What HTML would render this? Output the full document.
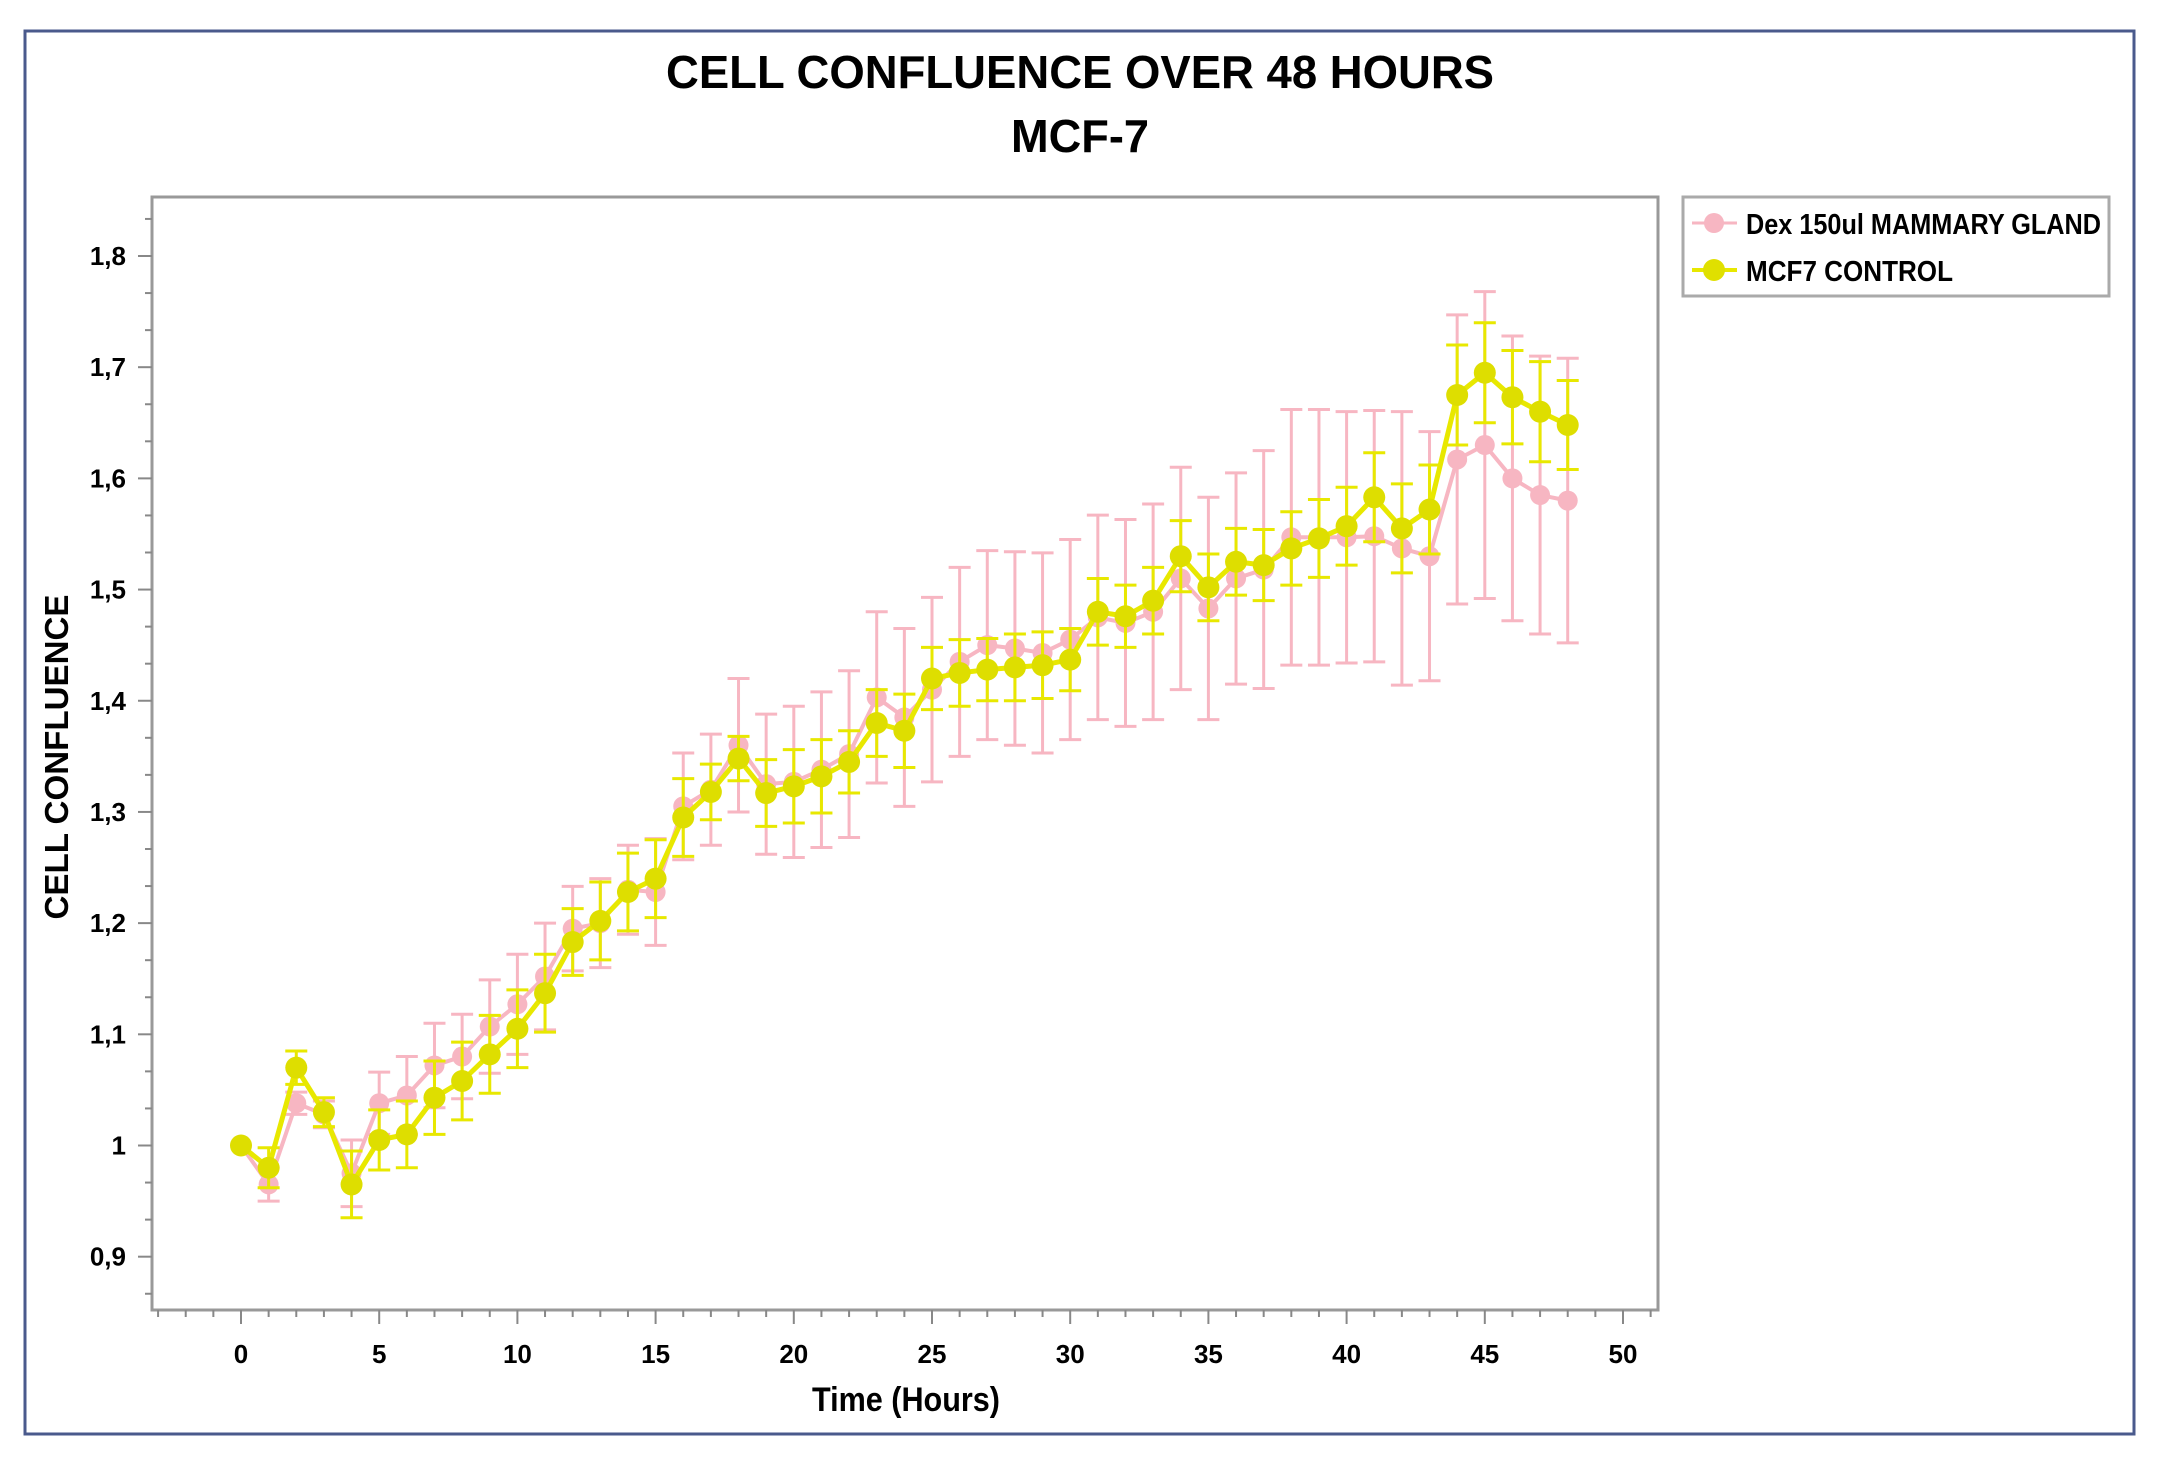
<!DOCTYPE html>
<html><head><meta charset="utf-8"><style>
html,body{margin:0;padding:0;background:#fff;}
svg{display:block;}
text{font-family:"Liberation Sans",sans-serif;font-weight:bold;fill:#000;}
</style></head><body>
<svg id="chart" width="2166" height="1462" viewBox="0 0 2166 1462" xmlns="http://www.w3.org/2000/svg">
<rect x="25" y="31" width="2109" height="1403" fill="#fff" stroke="#4a5a8c" stroke-width="3"/>
<text x="1080" y="88" text-anchor="middle" font-size="46" textLength="828" lengthAdjust="spacingAndGlyphs">CELL CONFLUENCE OVER 48 HOURS</text>
<text x="1080" y="152" text-anchor="middle" font-size="46" textLength="138" lengthAdjust="spacingAndGlyphs">MCF-7</text>
<rect x="152" y="197" width="1506" height="1113" fill="#fff" stroke="#999" stroke-width="3"/>
<g id="axes"></g>
<g id="series"></g>
<text transform="translate(68,757) rotate(-90)" text-anchor="middle" font-size="33" textLength="325" lengthAdjust="spacingAndGlyphs">CELL CONFLUENCE</text>
<text x="906" y="1411" text-anchor="middle" font-size="34" textLength="188" lengthAdjust="spacingAndGlyphs">Time (Hours)</text>
<g>
<rect x="1683" y="197" width="426" height="99" fill="#fff" stroke="#aaa" stroke-width="3"/>
<g>
<line x1="1692" y1="223" x2="1737" y2="223" stroke="#f7b6c2" stroke-width="3"/>
<circle cx="1714" cy="223" r="10" fill="#f7b6c2"/>
<text x="1746" y="234" font-size="29" textLength="355" lengthAdjust="spacingAndGlyphs">Dex 150ul MAMMARY GLAND</text>
</g>
<g>
<line x1="1692" y1="270" x2="1737" y2="270" stroke="#e8e800" stroke-width="4"/>
<circle cx="1714" cy="270" r="11" fill="#e0e000"/>
<text x="1746" y="281" font-size="29" textLength="207" lengthAdjust="spacingAndGlyphs">MCF7 CONTROL</text>
</g>
</g>
</svg>
<script>
const hours = [0,1,2,3,4,5,6,7,8,9,10,11,12,13,14,15,16,17,18,19,20,21,22,23,24,25,26,27,28,29,30,31,32,33,34,35,36,37,38,39,40,41,42,43,44,45,46,47,48];
const dexValues = [1.0,0.965,1.038,1.028,0.975,1.038,1.045,1.072,1.08,1.107,1.127,1.152,1.195,1.2,1.23,1.228,1.305,1.32,1.36,1.325,1.327,1.338,1.352,1.403,1.385,1.41,1.435,1.45,1.447,1.443,1.455,1.475,1.47,1.48,1.51,1.483,1.51,1.518,1.547,1.547,1.547,1.548,1.537,1.53,1.617,1.63,1.6,1.585,1.58];
const dexErrors = [0,0.015,0.01,0.012,0.03,0.028,0.035,0.038,0.038,0.042,0.045,0.048,0.038,0.04,0.04,0.048,0.048,0.05,0.06,0.063,0.068,0.07,0.075,0.077,0.08,0.083,0.085,0.085,0.087,0.09,0.09,0.092,0.093,0.097,0.1,0.1,0.095,0.107,0.115,0.115,0.113,0.113,0.123,0.112,0.13,0.138,0.128,0.125,0.128];
const controlValues = [1.0,0.98,1.07,1.03,0.965,1.005,1.01,1.043,1.058,1.082,1.105,1.137,1.183,1.202,1.228,1.24,1.295,1.318,1.348,1.317,1.323,1.332,1.345,1.38,1.373,1.42,1.425,1.428,1.43,1.432,1.437,1.48,1.476,1.49,1.53,1.502,1.525,1.522,1.537,1.546,1.557,1.583,1.555,1.572,1.675,1.695,1.673,1.66,1.648];
const controlErrors = [0,0.018,0.015,0.013,0.03,0.027,0.03,0.033,0.035,0.035,0.035,0.035,0.03,0.035,0.035,0.035,0.035,0.025,0.02,0.03,0.033,0.033,0.028,0.03,0.033,0.028,0.03,0.028,0.03,0.03,0.028,0.03,0.028,0.03,0.032,0.03,0.03,0.032,0.033,0.035,0.035,0.04,0.04,0.04,0.045,0.045,0.042,0.045,0.04];
const xTickLabels = [0,5,10,15,20,25,30,35,40,45,50];
const yTickLabels = ["0,9","1","1,1","1,2","1,3","1,4","1,5","1,6","1,7","1,8"];
const yTickValues = [0.9,1.0,1.1,1.2,1.3,1.4,1.5,1.6,1.7,1.8];

const NS = "http://www.w3.org/2000/svg";
const X0 = 241, X50 = 1623, Y10 = 1145.5, Y18 = 256;
const PL = 152, PB = 1310, PT = 197, PR = 1658;
function xs(v){ return X0 + (X50 - X0) * v / 50; }
function ys(v){ return Y10 - (Y10 - Y18) * (v - 1.0) / 0.8; }
function mk(tag, attrs, parent){ const e = document.createElementNS(NS, tag); for (const k in attrs) e.setAttribute(k, attrs[k]); parent.appendChild(e); return e; }

const axes = document.getElementById('axes');
for (let h = -3; h <= 51; h++) {
  const major = h % 5 === 0;
  const t = mk('line', {x1: xs(h), x2: xs(h), y1: PB, y2: PB + (major ? 14 : 7), stroke: '#888', 'stroke-width': 2}, axes);
  
  
}
xTickLabels.forEach(v => {
  const t = mk('text', {x: xs(v), y: 1363, 'text-anchor': 'middle', 'font-size': 26}, axes);
  t.textContent = v;
  
  
});
for (let i = -3; i <= 28; i++) {
  const v = 0.9 + i * 0.1 / 3;
  const yy = ys(v);
  if (yy < PT || yy > PB) continue;
  const major = i % 3 === 0;
  const t = mk('line', {x1: PL - (major ? 14 : 7), x2: PL, y1: yy, y2: yy, stroke: '#888', 'stroke-width': 2}, axes);
  
  
}
yTickValues.forEach((v, i) => {
  const t = mk('text', {x: 126, y: ys(v) + 9, 'text-anchor': 'end', 'font-size': 26}, axes);
  t.textContent = yTickLabels[i];
  
  
});

const series = document.getElementById('series');
function drawSeries(name, vals, errs, color, lineW, r, fill) {
  const g = mk('g', {}, series);
  
  
  hours.forEach((h, i) => {
    if (errs[i] <= 0) return;
    const x = xs(h), y1 = ys(vals[i] + errs[i]), y2 = ys(vals[i] - errs[i]);
    const e = mk('path', {d: `M${x},${y1}V${y2}M${x-11},${y1}H${x+11}M${x-11},${y2}H${x+11}`, stroke: color, 'stroke-width': 3, fill: 'none'}, g);
    
    
  });
  const pts = hours.map((h, i) => xs(h) + ',' + ys(vals[i])).join(' ');
  const pl = mk('polyline', {points: pts, fill: 'none', stroke: color, 'stroke-width': lineW, 'stroke-linejoin': 'round'}, g);
  
  
  hours.forEach((h, i) => {
    const c = mk('circle', {cx: xs(h), cy: ys(vals[i]), r: r, fill: fill}, g);
    
    
  });
}
drawSeries('dex', dexValues, dexErrors, '#f7b6c2', 4, 10, '#f7b6c2');
drawSeries('control', controlValues, controlErrors, '#e8e800', 5, 11, '#dede00');
</script>
</body></html>
